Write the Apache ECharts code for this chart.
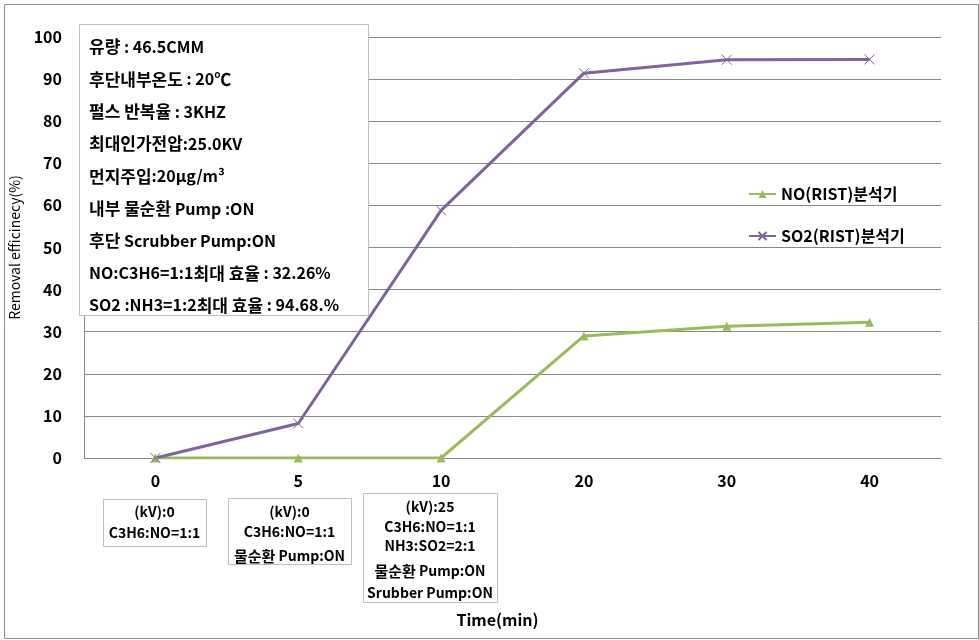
<!DOCTYPE html>
<html>
<head>
<meta charset="utf-8">
<script src="https://cdn.jsdelivr.net/npm/echarts@6/dist/echarts.min.js"></script>
<style>
  html, body { margin: 0; padding: 0; background: #fff; }
  #chart { width: 979px; height: 640px; }
</style>
</head>
<body>
<div id="chart"></div>
<script>
// data
var times = ['0', '5', '10', '20', '30', '40']
var noValues = [0, 0, 0, 29.0, 31.3, 32.26]
var so2Values = [0, 8.2, 58.8, 91.4, 94.6, 94.68]
var infoLines = [
  '유량 : 46.5CMM',
  '후단내부온도 : 20℃',
  '펄스 반복율 : 3KHZ',
  '최대인가전압:25.0KV',
  '먼지주입:20μg/m³',
  '내부 물순환 Pump :ON',
  '후단 Scrubber Pump:ON',
  'NO:C3H6=1:1최대 효율 : 32.26%',
  'SO2 :NH3=1:2최대 효율 : 94.68.%'
]
var stepNotes = [
  ['(kV):0', 'C3H6:NO=1:1'],
  ['(kV):0', 'C3H6:NO=1:1', '물순환 Pump:ON'],
  ['(kV):25', 'C3H6:NO=1:1', 'NH3:SO2=2:1', '물순환 Pump:ON', 'Srubber Pump:ON']
]

var FONT = "'Noto Sans CJK KR', 'Noto Sans', sans-serif"
var chart = echarts.init(document.getElementById('chart'))

// split text into korean / latin runs so each gets its own size
function richify(t) {
  var parts = t.match(/[\uac00-\ud7a3℃]+(?: [\uac00-\ud7a3℃]+)*|[^\uac00-\ud7a3℃]+/g)
  return parts.map(function (p) {
    return /[\uac00-\ud7a3℃]/.test(p) ? '{k|' + p + '}' : '{l|' + p + '}'
  }).join('')
}
function richStyles(kSize, lSize) {
  return {
    k: { fontSize: kSize, fontWeight: 'bold', fontFamily: FONT, fill: '#000' },
    l: { fontSize: lSize, fontWeight: 'bold', fontFamily: FONT, fill: '#000' }
  }
}

var graphics = [{
  type: 'rect', left: 2, top: 2,
  shape: { width: 974, height: 634 },
  style: { fill: 'none', stroke: '#8c8c8c', lineWidth: 1 }
}, {
  type: 'rect', left: 79, top: 24, z: 10,
  shape: { width: 289, height: 291 },
  style: { fill: '#fff', stroke: '#bfbfbf', lineWidth: 1 }
}]
infoLines.forEach(function (t, i) {
  graphics.push({
    type: 'text', x: 89, y: 47 + i * 32.3, z: 11,
    style: {
      text: richify(t), textVerticalAlign: 'middle',
      rich: richStyles(17, 16)
    }
  })
})
var boxes = [
  { x: 103, y: 499, w: 103, h: 47, lineY: [512, 533] },
  { x: 228, y: 498, w: 123, h: 66, lineY: [512, 532, 556] },
  { x: 363, y: 493, w: 134, h: 109, lineY: [507, 527, 546, 571, 593] }
]
stepNotes.forEach(function (lines, b) {
  var bx = boxes[b]
  graphics.push({
    type: 'rect', left: bx.x, top: bx.y,
    shape: { width: bx.w, height: bx.h },
    style: { fill: '#fff', stroke: '#bfbfbf', lineWidth: 1 }
  })
  lines.forEach(function (t, i) {
    graphics.push({
      type: 'text', z: 5,
      x: bx.x + bx.w / 2, y: bx.lineY[i],
      style: {
        text: richify(t), textAlign: 'center', textVerticalAlign: 'middle',
        rich: richStyles(15, 14)
      }
    })
  })
})

chart.setOption({
  animation: false,
  backgroundColor: '#fff',
  grid: { left: 80, right: 38, top: 37, bottom: 182 },
  legend: {
    orient: 'vertical',
    left: 743,
    top: 181,
    itemWidth: 27,
    itemHeight: 10,
    itemGap: 26,
    textStyle: { color: '#000', fontSize: 16, fontWeight: 'bold', fontFamily: FONT },
    data: ['NO(RIST)분석기', 'SO2(RIST)분석기']
  },
  xAxis: {
    type: 'category',
    data: times,
    name: 'Time(min)',
    nameLocation: 'middle',
    nameGap: 154,
    nameTextStyle: { color: '#000', fontSize: 16, fontWeight: 'bold', fontFamily: FONT, padding: [0, 30, 0, 0] },
    axisLine: { lineStyle: { color: '#888' } },
    axisTick: { show: false },
    axisLabel: { color: '#000', fontSize: 16, fontWeight: 'bold', fontFamily: FONT, margin: 15 }
  },
  yAxis: {
    type: 'value',
    min: 0,
    max: 100,
    interval: 10,
    name: 'Removal efficinecy(%)',
    nameLocation: 'middle',
    nameGap: 62,
    nameTextStyle: { color: '#000', fontSize: 14, fontFamily: FONT },
    axisLine: { show: true, lineStyle: { color: '#888' } },
    axisTick: { show: false },
    splitLine: { lineStyle: { color: '#888' } },
    axisLabel: { color: '#000', fontSize: 16, fontWeight: 'bold', fontFamily: FONT, margin: 22 }
  },
  series: [{
    name: 'NO(RIST)분석기',
    type: 'line',
    data: noValues,
    symbol: 'triangle',
    symbolSize: 9,
    lineStyle: { color: '#9bbb59', width: 3 },
    itemStyle: { color: '#9bbb59' }
  }, {
    name: 'SO2(RIST)분석기',
    type: 'line',
    data: so2Values,
    symbol: 'path://M0,0L10,10M10,0L0,10',
    symbolSize: 10,
    lineStyle: { color: '#7f62a1', width: 3 },
    itemStyle: { color: '#7f62a1', borderColor: '#7f62a1', borderWidth: 1 }
  }],
  graphic: graphics
})
</script>
</body>
</html>
